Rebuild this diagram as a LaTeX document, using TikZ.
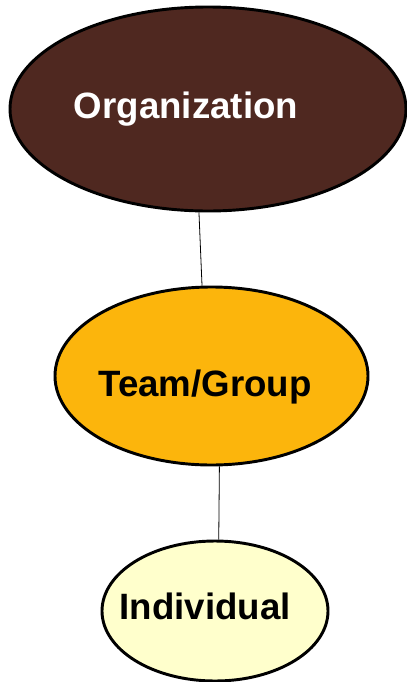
\documentclass[tikz,border=0pt]{standalone}
\usepackage{fontspec}
\setmainfont{Liberation Sans}
\usetikzlibrary{shapes.geometric}
\definecolor{orgbrown}{HTML}{4F2820}
\definecolor{teamgold}{HTML}{FCB50C}
\definecolor{indcream}{HTML}{FFFFCC}
\tikzset{
  level/.style={ellipse, draw=black, line width=2.2pt, inner sep=0pt},
  levellabel/.style={anchor=base, font=\bfseries\fontsize{27.5}{30}\selectfont, inner sep=0pt},
  link/.style={draw=black, line width=0.6pt}
}
\begin{document}
\begin{tikzpicture}[x=0.75pt,y=-0.75pt]
  \useasboundingbox (0,0) rectangle (407,682);
  % the three levels
  \node[level, fill=orgbrown, minimum width=297pt, minimum height=153pt] (org) at (208,109) {};
  \node[level, fill=teamgold, minimum width=234.75pt, minimum height=133.5pt] (team) at (211.5,376) {};
  \node[level, fill=indcream, minimum width=169.5pt, minimum height=105pt] (ind) at (215,611) {};
  % labels
  \node[levellabel, text=white] (orgtext) at (186,118) {Organization};
  \node[levellabel, text=black] (teamtext) at (205,396) {Team/Group};
  \node[levellabel, text=black] (indtext) at (205,619) {Individual};
  % connectors
  \draw[link] (org.265.5) -- (team.96.1);
  \draw[link] (team.275.5) -- (ind.87.5);
\end{tikzpicture}
\end{document}
